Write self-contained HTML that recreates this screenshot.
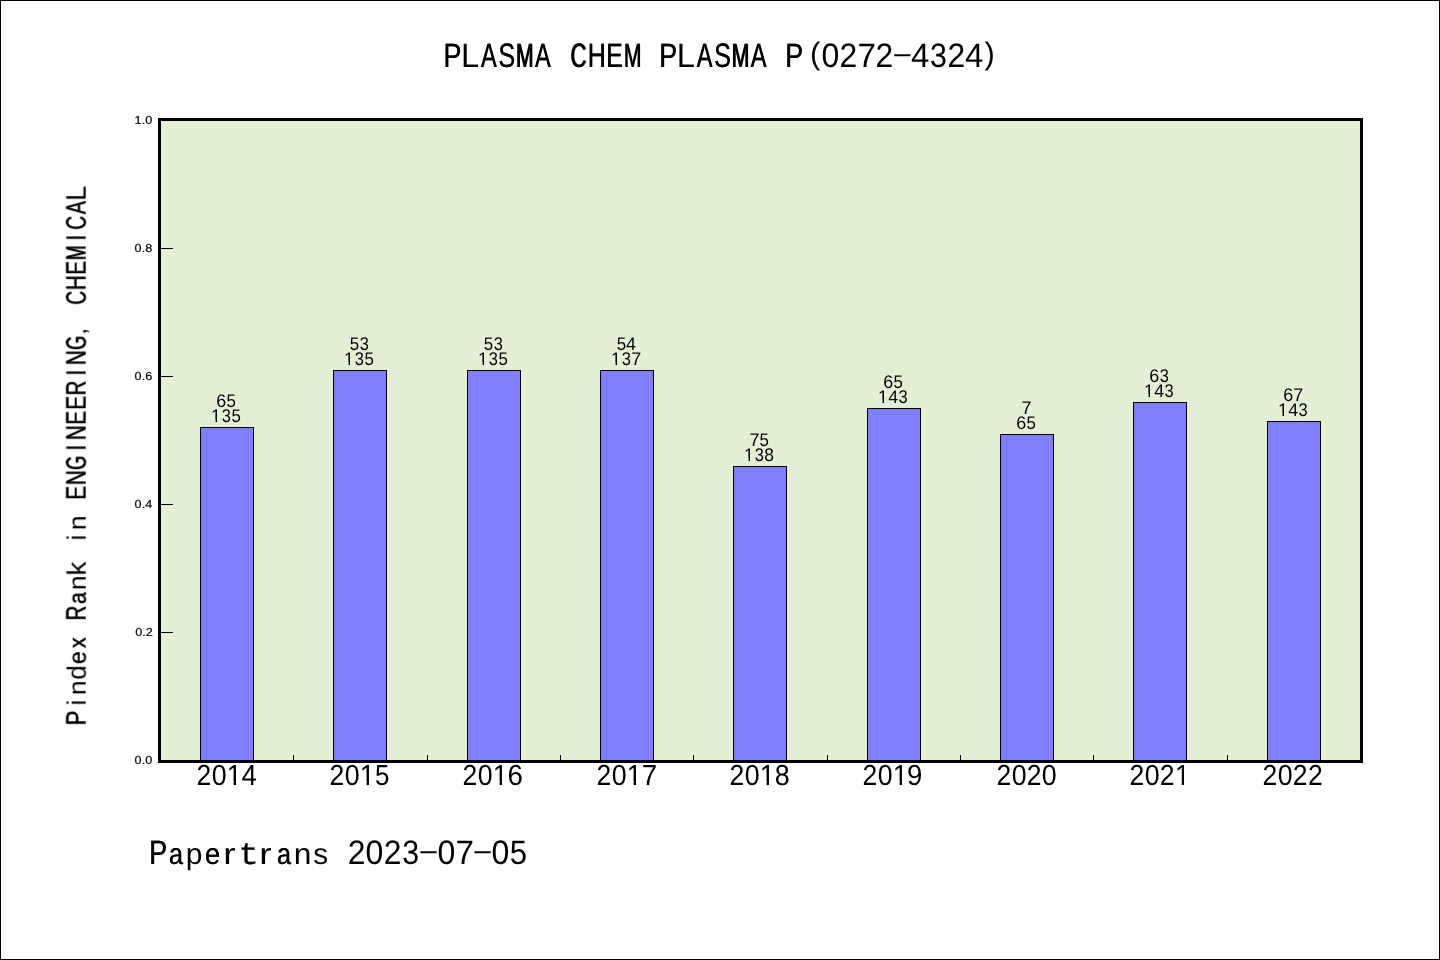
<!DOCTYPE html>
<html><head><meta charset="utf-8"><title>PLASMA CHEM PLASMA P(0272-4324)</title>
<style>
html,body{margin:0;padding:0;background:#fff;}
body{width:1440px;height:960px;overflow:hidden;font-family:"Liberation Sans",sans-serif;}
svg{display:block;will-change:transform;}
</style></head><body>
<svg width="1440" height="960" viewBox="0 0 1440 960" shape-rendering="crispEdges" text-rendering="geometricPrecision">
<defs><clipPath id="c0"><rect x="0" y="-21.195" width="7.348" height="17.521"/><rect x="7.079" y="-21.195" width="2.543" height="21.478"/></clipPath><clipPath id="c1"><rect x="0" y="-13.777" width="4.776" height="11.389"/><rect x="4.602" y="-13.777" width="1.653" height="13.961"/></clipPath></defs>
<rect x="0" y="0" width="1440" height="960" fill="#fff"/>
<rect x="160" y="120" width="1201" height="641" fill="#e3f0d5"/>
<rect x="200" y="427" width="54" height="335" fill="#000"/>
<rect x="201" y="428" width="52" height="334" fill="#8080ff"/>
<rect x="333" y="370" width="54" height="392" fill="#000"/>
<rect x="334" y="371" width="52" height="391" fill="#8080ff"/>
<rect x="467" y="370" width="54" height="392" fill="#000"/>
<rect x="468" y="371" width="52" height="391" fill="#8080ff"/>
<rect x="600" y="370" width="54" height="392" fill="#000"/>
<rect x="601" y="371" width="52" height="391" fill="#8080ff"/>
<rect x="733" y="466" width="54" height="296" fill="#000"/>
<rect x="734" y="467" width="52" height="295" fill="#8080ff"/>
<rect x="867" y="408" width="54" height="354" fill="#000"/>
<rect x="868" y="409" width="52" height="353" fill="#8080ff"/>
<rect x="1000" y="434" width="54" height="328" fill="#000"/>
<rect x="1001" y="435" width="52" height="327" fill="#8080ff"/>
<rect x="1133" y="402" width="54" height="360" fill="#000"/>
<rect x="1134" y="403" width="52" height="359" fill="#8080ff"/>
<rect x="1267" y="421" width="54" height="341" fill="#000"/>
<rect x="1268" y="422" width="52" height="340" fill="#8080ff"/>
<rect x="161" y="248" width="12" height="1" fill="#000"/>
<rect x="161" y="376" width="12" height="1" fill="#000"/>
<rect x="161" y="504" width="12" height="1" fill="#000"/>
<rect x="161" y="632" width="12" height="1" fill="#000"/>
<rect x="293" y="755" width="1" height="6" fill="#000"/>
<rect x="427" y="755" width="1" height="6" fill="#000"/>
<rect x="560" y="755" width="1" height="6" fill="#000"/>
<rect x="693" y="755" width="1" height="6" fill="#000"/>
<rect x="827" y="755" width="1" height="6" fill="#000"/>
<rect x="960" y="755" width="1" height="6" fill="#000"/>
<rect x="1093" y="755" width="1" height="6" fill="#000"/>
<rect x="1227" y="755" width="1" height="6" fill="#000"/>
<rect x="158" y="118" width="1205" height="3" fill="#000"/>
<rect x="158" y="760" width="1205" height="3" fill="#000"/>
<rect x="158" y="118" width="3" height="645" fill="#000"/>
<rect x="1360" y="118" width="3" height="645" fill="#000"/>
<rect x="0" y="0" width="1440" height="1" fill="#000"/><rect x="0" y="959" width="1440" height="1" fill="#000"/>
<rect x="0" y="0" width="1" height="960" fill="#000"/><rect x="1439" y="0" width="1" height="960" fill="#000"/>
<g opacity="0.999">
<g id="tx" font-family="'Liberation Sans', sans-serif" fill="#000">
<text id="g1" transform="translate(443.35 67.35) scale(0.7894 1.0000)" font-size="33.91">P</text><use href="#g1" x="0.44"/><text transform="translate(460.99 67.35) scale(0.9631 1.0000)" font-size="33.91">L</text><text id="g2" transform="translate(480.76 67.35) scale(0.6961 1.0000)" font-size="33.91">A</text><use href="#g2" x="0.44"/><text id="g3" transform="translate(498.17 67.35) scale(0.7464 1.0000)" font-size="33.91">S</text><use href="#g3" x="0.44"/><text id="g4" transform="translate(515.57 67.35) scale(0.6221 1.0000)" font-size="33.91">M</text><use href="#g4" x="0.90"/><text id="g5" transform="translate(534.70 67.35) scale(0.6961 1.0000)" font-size="33.91">A</text><use href="#g5" x="0.44"/> <text id="g6" transform="translate(570.11 67.35) scale(0.6571 1.0000)" font-size="33.91">C</text><use href="#g6" x="0.90"/><text id="g7" transform="translate(587.48 67.35) scale(0.7369 1.0000)" font-size="33.91">H</text><use href="#g7" x="0.44"/><text id="g8" transform="translate(606.01 67.35) scale(0.7321 1.0000)" font-size="33.91">E</text><use href="#g8" x="0.44"/><text id="g9" transform="translate(623.45 67.35) scale(0.6221 1.0000)" font-size="33.91">M</text><use href="#g9" x="0.90"/> <text id="g10" transform="translate(659.11 67.35) scale(0.7894 1.0000)" font-size="33.91">P</text><use href="#g10" x="0.44"/><text transform="translate(676.75 67.35) scale(0.9631 1.0000)" font-size="33.91">L</text><text id="g11" transform="translate(696.52 67.35) scale(0.6961 1.0000)" font-size="33.91">A</text><use href="#g11" x="0.44"/><text id="g12" transform="translate(713.93 67.35) scale(0.7464 1.0000)" font-size="33.91">S</text><use href="#g12" x="0.44"/><text id="g13" transform="translate(731.33 67.35) scale(0.6221 1.0000)" font-size="33.91">M</text><use href="#g13" x="0.90"/><text id="g14" transform="translate(750.46 67.35) scale(0.6961 1.0000)" font-size="33.91">A</text><use href="#g14" x="0.44"/> <text id="g15" transform="translate(784.97 67.35) scale(0.7894 1.0000)" font-size="33.91">P</text><use href="#g15" x="0.44"/><text transform="translate(809.96 63.64) scale(0.9129 0.9144)" font-size="33.91">(</text><text transform="translate(821.55 67.35) scale(0.9460 1.0000)" font-size="33.91">0</text><text transform="translate(839.59 67.35) scale(0.9391 1.0000)" font-size="33.91">2</text><text transform="translate(857.38 67.35) scale(0.9808 1.0000)" font-size="33.91">7</text><text transform="translate(875.55 67.35) scale(0.9391 1.0000)" font-size="33.91">2</text><text transform="translate(891.34 62.05) scale(1.9567 0.7500)" font-size="33.91">-</text><text transform="translate(911.01 67.35) scale(0.9733 1.0000)" font-size="33.91">4</text><text transform="translate(929.99 67.35) scale(0.8956 1.0000)" font-size="33.91">3</text><text transform="translate(947.47 67.35) scale(0.9391 1.0000)" font-size="33.91">2</text><text transform="translate(964.95 67.35) scale(0.9733 1.0000)" font-size="33.91">4</text><text transform="translate(984.51 63.64) scale(0.9129 0.9144)" font-size="33.91">)</text>
<text id="g16" transform="translate(148.96 864.20) scale(0.7894 1.0000)" font-size="33.91">P</text><use href="#g16" x="0.44"/><text id="g17" transform="translate(168.73 864.20) scale(0.7435 0.8730)" font-size="33.91">a</text><use href="#g17" x="0.44"/><text transform="translate(185.82 864.20) scale(0.8852 0.8730)" font-size="33.91">p</text><text id="g18" transform="translate(204.63 864.20) scale(0.8139 0.8730)" font-size="33.91">e</text><use href="#g18" x="0.44"/><text transform="translate(223.36 864.20) scale(1.1000 0.8730)" font-size="33.91">r</text><text transform="translate(238.73 864.20) scale(0.9212 0.8700)" font-size="36.00" font-family="'Liberation Mono', monospace" stroke="#000" stroke-width="0.3">t</text><text transform="translate(259.36 864.20) scale(1.1000 0.8730)" font-size="33.91">r</text><text id="g19" transform="translate(276.73 864.20) scale(0.7435 0.8730)" font-size="33.91">a</text><use href="#g19" x="0.44"/><text transform="translate(293.64 864.20) scale(0.9371 0.8730)" font-size="33.91">n</text><text transform="translate(313.19 864.20) scale(0.8765 0.8730)" font-size="33.91">s</text> <text transform="translate(347.64 864.20) scale(0.9391 1.0000)" font-size="33.91">2</text><text transform="translate(365.58 864.20) scale(0.9460 1.0000)" font-size="33.91">0</text><text transform="translate(383.64 864.20) scale(0.9391 1.0000)" font-size="33.91">2</text><text transform="translate(402.14 864.20) scale(0.8956 1.0000)" font-size="33.91">3</text><text transform="translate(417.45 858.90) scale(1.9567 0.7500)" font-size="33.91">-</text><text transform="translate(437.58 864.20) scale(0.9460 1.0000)" font-size="33.91">0</text><text transform="translate(455.45 864.20) scale(0.9808 1.0000)" font-size="33.91">7</text><text transform="translate(471.45 858.90) scale(1.9567 0.7500)" font-size="33.91">-</text><text transform="translate(491.58 864.20) scale(0.9460 1.0000)" font-size="33.91">0</text><text transform="translate(509.87 864.20) scale(0.9180 1.0000)" font-size="33.91">5</text>
</g>
<g id="ty" font-family="'Liberation Sans', sans-serif" fill="#000">
<text transform="translate(196.62 785.00) scale(0.9391 1.0250)" font-size="28.26">2</text><text transform="translate(211.67 785.00) scale(0.9460 1.0250)" font-size="28.26">0</text><text transform="translate(226.79 785.00) scale(0.9600 1.0250)" font-size="28.26" clip-path="url(#c0)">1</text><text transform="translate(241.50 785.00) scale(0.9733 1.0250)" font-size="28.26">4</text>
<text transform="translate(329.62 785.00) scale(0.9391 1.0250)" font-size="28.26">2</text><text transform="translate(344.67 785.00) scale(0.9460 1.0250)" font-size="28.26">0</text><text transform="translate(359.79 785.00) scale(0.9600 1.0250)" font-size="28.26" clip-path="url(#c0)">1</text><text transform="translate(375.11 785.00) scale(0.9180 1.0250)" font-size="28.26">5</text>
<text transform="translate(462.62 785.00) scale(0.9391 1.0250)" font-size="28.26">2</text><text transform="translate(477.67 785.00) scale(0.9460 1.0250)" font-size="28.26">0</text><text transform="translate(492.79 785.00) scale(0.9600 1.0250)" font-size="28.26" clip-path="url(#c0)">1</text><text transform="translate(507.52 785.00) scale(0.9778 1.0250)" font-size="28.26">6</text>
<text transform="translate(596.62 785.00) scale(0.9391 1.0250)" font-size="28.26">2</text><text transform="translate(611.67 785.00) scale(0.9460 1.0250)" font-size="28.26">0</text><text transform="translate(626.79 785.00) scale(0.9600 1.0250)" font-size="28.26" clip-path="url(#c0)">1</text><text transform="translate(641.76 785.00) scale(0.9808 1.0250)" font-size="28.26">7</text>
<text transform="translate(729.62 785.00) scale(0.9391 1.0250)" font-size="28.26">2</text><text transform="translate(744.67 785.00) scale(0.9460 1.0250)" font-size="28.26">0</text><text transform="translate(759.79 785.00) scale(0.9600 1.0250)" font-size="28.26" clip-path="url(#c0)">1</text><text transform="translate(774.83 785.00) scale(0.9502 1.0250)" font-size="28.26">8</text>
<text transform="translate(862.62 785.00) scale(0.9391 1.0250)" font-size="28.26">2</text><text transform="translate(877.67 785.00) scale(0.9460 1.0250)" font-size="28.26">0</text><text transform="translate(892.79 785.00) scale(0.9600 1.0250)" font-size="28.26" clip-path="url(#c0)">1</text><text transform="translate(906.88 785.00) scale(0.9767 1.0250)" font-size="28.26">9</text>
<text transform="translate(996.62 785.00) scale(0.9391 1.0250)" font-size="28.26">2</text><text transform="translate(1011.67 785.00) scale(0.9460 1.0250)" font-size="28.26">0</text><text transform="translate(1026.82 785.00) scale(0.9391 1.0250)" font-size="28.26">2</text><text transform="translate(1041.87 785.00) scale(0.9460 1.0250)" font-size="28.26">0</text>
<text transform="translate(1129.62 785.00) scale(0.9391 1.0250)" font-size="28.26">2</text><text transform="translate(1144.67 785.00) scale(0.9460 1.0250)" font-size="28.26">0</text><text transform="translate(1159.82 785.00) scale(0.9391 1.0250)" font-size="28.26">2</text><text transform="translate(1174.89 785.00) scale(0.9600 1.0250)" font-size="28.26" clip-path="url(#c0)">1</text>
<text transform="translate(1262.62 785.00) scale(0.9391 1.0250)" font-size="28.26">2</text><text transform="translate(1277.67 785.00) scale(0.9460 1.0250)" font-size="28.26">0</text><text transform="translate(1292.82 785.00) scale(0.9391 1.0250)" font-size="28.26">2</text><text transform="translate(1307.92 785.00) scale(0.9391 1.0250)" font-size="28.26">2</text>
</g>
<g id="tb" font-family="'Liberation Sans', sans-serif" fill="#000">
<text transform="translate(216.37 407.00) scale(0.9778 1.0000)" font-size="18.37">6</text><text transform="translate(226.50 407.00) scale(0.9180 1.0000)" font-size="18.37">5</text>
<text transform="translate(211.11 422.00) scale(0.9600 1.0000)" font-size="18.37" clip-path="url(#c1)">1</text><text transform="translate(221.77 422.00) scale(0.8956 1.0000)" font-size="18.37">3</text><text transform="translate(231.38 422.00) scale(0.9180 1.0000)" font-size="18.37">5</text>
<text transform="translate(349.75 350.00) scale(0.9180 1.0000)" font-size="18.37">5</text><text transform="translate(359.65 350.00) scale(0.8956 1.0000)" font-size="18.37">3</text>
<text transform="translate(344.11 365.00) scale(0.9600 1.0000)" font-size="18.37" clip-path="url(#c1)">1</text><text transform="translate(354.77 365.00) scale(0.8956 1.0000)" font-size="18.37">3</text><text transform="translate(364.38 365.00) scale(0.9180 1.0000)" font-size="18.37">5</text>
<text transform="translate(483.75 350.00) scale(0.9180 1.0000)" font-size="18.37">5</text><text transform="translate(493.65 350.00) scale(0.8956 1.0000)" font-size="18.37">3</text>
<text transform="translate(478.11 365.00) scale(0.9600 1.0000)" font-size="18.37" clip-path="url(#c1)">1</text><text transform="translate(488.77 365.00) scale(0.8956 1.0000)" font-size="18.37">3</text><text transform="translate(498.38 365.00) scale(0.9180 1.0000)" font-size="18.37">5</text>
<text transform="translate(616.75 350.00) scale(0.9180 1.0000)" font-size="18.37">5</text><text transform="translate(626.10 350.00) scale(0.9733 1.0000)" font-size="18.37">4</text>
<text transform="translate(611.11 365.00) scale(0.9600 1.0000)" font-size="18.37" clip-path="url(#c1)">1</text><text transform="translate(621.77 365.00) scale(0.8956 1.0000)" font-size="18.37">3</text><text transform="translate(631.15 365.00) scale(0.9808 1.0000)" font-size="18.37">7</text>
<text transform="translate(749.52 446.00) scale(0.9808 1.0000)" font-size="18.37">7</text><text transform="translate(759.50 446.00) scale(0.9180 1.0000)" font-size="18.37">5</text>
<text transform="translate(744.11 461.00) scale(0.9600 1.0000)" font-size="18.37" clip-path="url(#c1)">1</text><text transform="translate(754.77 461.00) scale(0.8956 1.0000)" font-size="18.37">3</text><text transform="translate(764.20 461.00) scale(0.9502 1.0000)" font-size="18.37">8</text>
<text transform="translate(883.37 388.00) scale(0.9778 1.0000)" font-size="18.37">6</text><text transform="translate(893.50 388.00) scale(0.9180 1.0000)" font-size="18.37">5</text>
<text transform="translate(878.11 403.00) scale(0.9600 1.0000)" font-size="18.37" clip-path="url(#c1)">1</text><text transform="translate(888.23 403.00) scale(0.9733 1.0000)" font-size="18.37">4</text><text transform="translate(898.52 403.00) scale(0.8956 1.0000)" font-size="18.37">3</text>
<text transform="translate(1021.40 414.00) scale(0.9808 1.0000)" font-size="18.37">7</text>
<text transform="translate(1016.37 429.00) scale(0.9778 1.0000)" font-size="18.37">6</text><text transform="translate(1026.50 429.00) scale(0.9180 1.0000)" font-size="18.37">5</text>
<text transform="translate(1149.37 382.00) scale(0.9778 1.0000)" font-size="18.37">6</text><text transform="translate(1159.65 382.00) scale(0.8956 1.0000)" font-size="18.37">3</text>
<text transform="translate(1144.11 397.00) scale(0.9600 1.0000)" font-size="18.37" clip-path="url(#c1)">1</text><text transform="translate(1154.23 397.00) scale(0.9733 1.0000)" font-size="18.37">4</text><text transform="translate(1164.52 397.00) scale(0.8956 1.0000)" font-size="18.37">3</text>
<text transform="translate(1283.37 401.00) scale(0.9778 1.0000)" font-size="18.37">6</text><text transform="translate(1293.27 401.00) scale(0.9808 1.0000)" font-size="18.37">7</text>
<text transform="translate(1278.11 416.00) scale(0.9600 1.0000)" font-size="18.37" clip-path="url(#c1)">1</text><text transform="translate(1288.23 416.00) scale(0.9733 1.0000)" font-size="18.37">4</text><text transform="translate(1298.52 416.00) scale(0.8956 1.0000)" font-size="18.37">3</text>
</g>
<g id="tl" transform="translate(85.7 725.2) rotate(-90)" font-family="'Liberation Sans', sans-serif" fill="#000">
<text id="g20" transform="translate(-0.44 0.00) scale(0.7872 1.0000)" font-size="28.26">P</text><use href="#g20" x="0.40"/><text transform="translate(19.68 0.00) scale(0.9000 0.9400)" font-size="28.26">i</text><text transform="translate(30.12 0.00) scale(0.9371 0.8730)" font-size="28.26">n</text><text transform="translate(45.56 0.00) scale(0.9206 0.9400)" font-size="28.26">d</text><text id="g21" transform="translate(60.95 0.00) scale(0.8114 0.8730)" font-size="28.26">e</text><use href="#g21" x="0.40"/><text id="g22" transform="translate(76.86 0.00) scale(0.7699 0.8730)" font-size="28.26">x</text><use href="#g22" x="0.40"/> <text id="g23" transform="translate(104.51 0.00) scale(0.7271 1.0000)" font-size="28.26">R</text><use href="#g23" x="0.40"/><text id="g24" transform="translate(121.03 0.00) scale(0.7412 0.8730)" font-size="28.26">a</text><use href="#g24" x="0.40"/><text transform="translate(135.12 0.00) scale(0.9371 0.8730)" font-size="28.26">n</text><text transform="translate(149.44 0.00) scale(1.0027 0.9400)" font-size="28.26">k</text> <text transform="translate(184.68 0.00) scale(0.9000 0.9400)" font-size="28.26">i</text><text transform="translate(195.12 0.00) scale(0.9371 0.8730)" font-size="28.26">n</text> <text id="g25" transform="translate(225.26 0.00) scale(0.7299 1.0000)" font-size="28.26">E</text><use href="#g25" x="0.40"/><text id="g26" transform="translate(239.80 0.00) scale(0.7348 1.0000)" font-size="28.26">N</text><use href="#g26" x="0.40"/><text id="g27" transform="translate(255.05 0.00) scale(0.6396 1.0000)" font-size="28.26">G</text><use href="#g27" x="0.80"/><text transform="translate(273.97 0.00) scale(0.9000 1.0000)" font-size="28.26">I</text><text id="g28" transform="translate(284.80 0.00) scale(0.7348 1.0000)" font-size="28.26">N</text><use href="#g28" x="0.40"/><text id="g29" transform="translate(300.26 0.00) scale(0.7299 1.0000)" font-size="28.26">E</text><use href="#g29" x="0.40"/><text id="g30" transform="translate(315.26 0.00) scale(0.7299 1.0000)" font-size="28.26">E</text><use href="#g30" x="0.40"/><text id="g31" transform="translate(329.51 0.00) scale(0.7271 1.0000)" font-size="28.26">R</text><use href="#g31" x="0.40"/><text transform="translate(348.97 0.00) scale(0.9000 1.0000)" font-size="28.26">I</text><text id="g32" transform="translate(359.80 0.00) scale(0.7348 1.0000)" font-size="28.26">N</text><use href="#g32" x="0.40"/><text id="g33" transform="translate(375.05 0.00) scale(0.6396 1.0000)" font-size="28.26">G</text><use href="#g33" x="0.80"/><text transform="translate(390.23 0.00) scale(0.9194 0.8700)" font-size="28.26">,</text> <text id="g34" transform="translate(420.27 0.00) scale(0.6766 1.0000)" font-size="28.26">C</text><use href="#g34" x="0.40"/><text id="g35" transform="translate(434.80 0.00) scale(0.7348 1.0000)" font-size="28.26">H</text><use href="#g35" x="0.40"/><text id="g36" transform="translate(450.26 0.00) scale(0.7299 1.0000)" font-size="28.26">E</text><use href="#g36" x="0.40"/><text id="g37" transform="translate(464.81 0.00) scale(0.6194 1.0000)" font-size="28.26">M</text><use href="#g37" x="0.80"/><text transform="translate(483.97 0.00) scale(0.9000 1.0000)" font-size="28.26">I</text><text id="g38" transform="translate(495.27 0.00) scale(0.6766 1.0000)" font-size="28.26">C</text><use href="#g38" x="0.40"/><text id="g39" transform="translate(510.76 0.00) scale(0.6943 1.0000)" font-size="28.26">A</text><use href="#g39" x="0.40"/><text transform="translate(524.27 0.00) scale(0.9631 1.0000)" font-size="28.26">L</text>
</g>
<g font-family="'Liberation Sans', sans-serif" fill="#000">
<text transform="translate(152.2 124.0) scale(1.09 1)" text-anchor="end" font-size="11.6" stroke="#000" stroke-width="0.2">1.0</text>
<text transform="translate(152.2 252.0) scale(1.09 1)" text-anchor="end" font-size="11.6" stroke="#000" stroke-width="0.2">0.8</text>
<text transform="translate(152.2 380.0) scale(1.09 1)" text-anchor="end" font-size="11.6" stroke="#000" stroke-width="0.2">0.6</text>
<text transform="translate(152.2 508.0) scale(1.09 1)" text-anchor="end" font-size="11.6" stroke="#000" stroke-width="0.2">0.4</text>
<text transform="translate(152.9 636.0) scale(1.09 1)" text-anchor="end" font-size="11.6" stroke="#000" stroke-width="0.2">0.2</text>
<text transform="translate(152.2 764.0) scale(1.09 1)" text-anchor="end" font-size="11.6" stroke="#000" stroke-width="0.2">0.0</text>
</g>
</g>
</svg>
</body></html>
